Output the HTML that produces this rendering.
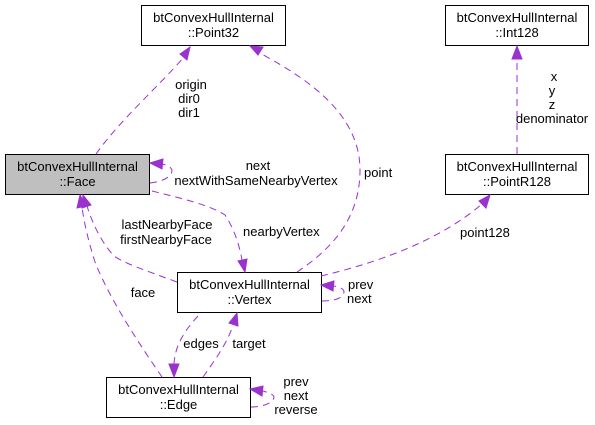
<!DOCTYPE html>
<html><head><meta charset="utf-8"><style>
html,body{margin:0;padding:0;background:#fff;width:595px;height:425px;overflow:hidden}
text{font-family:"Liberation Sans",Helvetica,sans-serif;font-size:13px;fill:#000}
.e{fill:none;stroke:#9a32cd;stroke-width:1;stroke-dasharray:7,5}
.a{fill:#9a32cd;stroke:#9a32cd}
.b{fill:#fff;stroke:#000;stroke-width:1}
</style></head><body>
<svg width="595" height="425" viewBox="0 0 595 425" xmlns="http://www.w3.org/2000/svg">
<rect class="b" x="141.5" y="5.5" width="144" height="40"/>
<text x="213.5" y="22" text-anchor="middle">btConvexHullInternal</text>
<text x="213.5" y="37" text-anchor="middle">::Point32</text>

<rect class="b" x="445.5" y="5.5" width="143" height="40"/>
<text x="517" y="22" text-anchor="middle">btConvexHullInternal</text>
<text x="517" y="37" text-anchor="middle">::Int128</text>

<rect x="5.5" y="154.5" width="144" height="40" fill="#bfbfbf" stroke="#000"/>
<text x="77.5" y="171" text-anchor="middle">btConvexHullInternal</text>
<text x="77.5" y="186" text-anchor="middle">::Face</text>

<rect class="b" x="445.5" y="154.5" width="143" height="40"/>
<text x="517" y="171" text-anchor="middle">btConvexHullInternal</text>
<text x="517" y="186" text-anchor="middle">::PointR128</text>

<rect class="b" x="177.5" y="272.5" width="144" height="40"/>
<text x="249.5" y="289" text-anchor="middle">btConvexHullInternal</text>
<text x="249.5" y="304" text-anchor="middle">::Vertex</text>

<rect class="b" x="106.5" y="377.5" width="144" height="40"/>
<text x="178.5" y="394" text-anchor="middle">btConvexHullInternal</text>
<text x="178.5" y="409" text-anchor="middle">::Edge</text>

<path class="e" d="M96,154 C120,120 160,85 184,57"/>
<polygon class="a" points="190,47 187,60 180,54"/>
<text x="191" y="89" text-anchor="middle">origin</text><text x="189" y="103" text-anchor="middle">dir0</text><text x="189" y="117" text-anchor="middle">dir1</text>

<path class="e" d="M297,272 C330,250 360,220 360,170 C360,110 300,75 258,52"/>
<polygon class="a" points="250,46 263,47 258,55"/>
<text x="364" y="177">point</text>

<path class="e" d="M150,183 C160,182 172,178 172,170 C170,166 166,165 162,164"/>
<polygon class="a" points="150,163 163,159 162,169"/>
<text x="258" y="170" text-anchor="middle">next</text>
<text x="256" y="185" text-anchor="middle">nextWithSameNearbyVertex</text>

<path class="e" d="M152,191 C180,198 210,205 225,215 C235,230 240,248 242,260"/>
<polygon class="a" points="245,272 238,261 247,259"/>
<text x="243" y="236">nearbyVertex</text>

<path class="e" d="M177,282 C150,272 120,262 113,255 C100,240 92,222 87,206"/>
<polygon class="a" points="83,195 91,205 82,208"/>
<text x="167" y="229" text-anchor="middle">lastNearbyFace</text><text x="166" y="244" text-anchor="middle">firstNearbyFace</text>

<path class="e" d="M162,377 C140,345 110,300 95,262 C88,240 84,222 82,207"/>
<polygon class="a" points="80,195 86,206 77,208"/>
<text x="143" y="297" text-anchor="middle">face</text>

<path class="e" d="M321,276 C380,262 440,240 482,204"/>
<polygon class="a" points="490,195 486,208 479,201"/>
<text x="460" y="237">point128</text>

<path class="e" d="M517,154 L517,58"/>
<polygon class="a" points="517,46 522,59 512,59"/>
<text x="554" y="81" text-anchor="middle">x</text><text x="552" y="95" text-anchor="middle">y</text><text x="552" y="109" text-anchor="middle">z</text><text x="552" y="123" text-anchor="middle">denominator</text>

<path class="e" d="M322,301 C333,301 343,299 344,292 C344,289 340,287 334,286"/>
<polygon class="a" points="321,285 334,281 333,291"/>
<text x="348" y="289">prev</text><text x="347" y="303">next</text>

<path class="e" d="M198,316 C185,330 175,345 174,364"/>
<polygon class="a" points="174,377 169,364 179,364"/>
<text x="201" y="348" text-anchor="middle">edges</text>

<path class="e" d="M203,377 C215,360 228,342 233,325"/>
<polygon class="a" points="237,313 238,326 229,323"/>
<text x="249" y="348" text-anchor="middle">target</text>

<path class="e" d="M251,407 C262,407 274,403 274,397 C274,395 270,393 263,391"/>
<polygon class="a" points="250,389 263,386 262,396"/>
<text x="296" y="386" text-anchor="middle">prev</text><text x="296" y="400" text-anchor="middle">next</text><text x="296" y="414" text-anchor="middle">reverse</text>
</svg>
</body></html>
